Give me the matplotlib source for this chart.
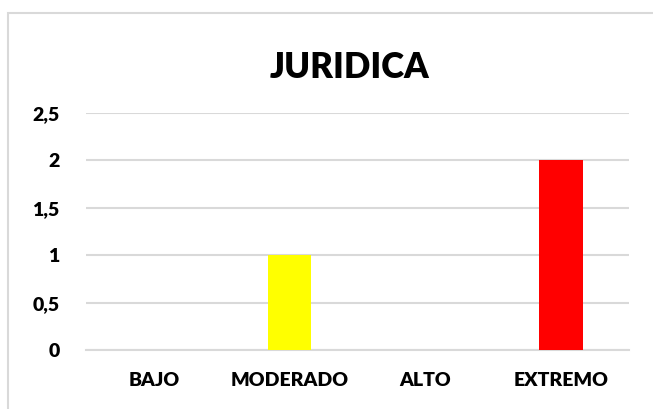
import matplotlib
matplotlib.use("Agg")
import matplotlib.pyplot as plt
from matplotlib.patches import Rectangle

categorias = ["BAJO", "MODERADO", "ALTO", "EXTREMO"]
valores = [0, 1, 0, 2]
colores = ["#4472c4", "#ffff00", "#ffc000", "#ff0000"]
yticks = [0, 0.5, 1, 1.5, 2, 2.5]
ytick_labels = ["0", "0,5", "1", "1,5", "2", "2,5"]

plt.rcParams['font.family'] = ['Lato', 'DejaVu Sans']

fig = plt.figure(figsize=(6.53, 4.09), dpi=100)
fig.patch.set_facecolor("white")

# marco del grafico (se corta por la derecha y abajo)
fig.patches.append(Rectangle((8 / 653, -0.05), 1.0, (409 - 13) / 409 + 0.05,
                             transform=fig.transFigure, fill=False,
                             edgecolor="#d9d9d9", linewidth=1.5))

ax = fig.add_axes([86 / 653, 59 / 409, 543 / 653, 237 / 409])
ax.bar(range(len(categorias)), valores, width=0.32, color=colores, zorder=3)
ax.set_xlim(-0.5, len(categorias) - 0.5)
ax.set_ylim(0, 2.5)
ax.set_yticks(yticks, labels=ytick_labels, fontweight="heavy", fontsize=14)
ax.set_xticks(range(len(categorias)), labels=categorias, fontweight="heavy", fontsize=14)
ax.grid(axis="y", color="#d9d9d9", linewidth=1.5, zorder=0)
for s in ["top", "right", "left"]:
    ax.spines[s].set_visible(False)
ax.spines["bottom"].set_color("#d9d9d9")
ax.spines["bottom"].set_linewidth(1.5)
ax.tick_params(axis="both", length=0)
ax.tick_params(axis="x", pad=16)
ax.tick_params(axis="y", pad=19)

fig.text(350 / 653, 0.834, "JURIDICA", ha="center", va="center",
         fontsize=25, fontweight="heavy")

fig.savefig("out.png", dpi=100)
